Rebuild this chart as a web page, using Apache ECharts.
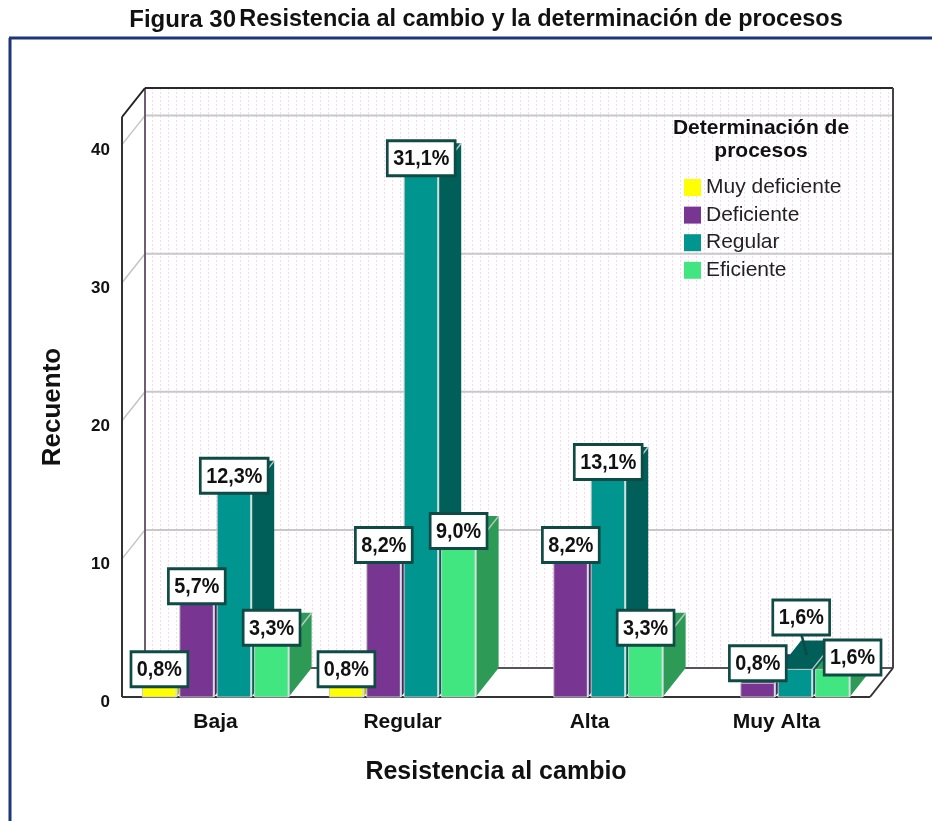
<!DOCTYPE html>
<html>
<head>
<meta charset="utf-8">
<script src="https://cdn.jsdelivr.net/npm/echarts@6/dist/echarts.min.js"></script>
<style>
  html, body { margin: 0; padding: 0; background: #ffffff; }
  #chart { width: 932px; height: 821px; }
</style>
</head>
<body>
<div id="chart"></div>
<script>
// Counts per group of "Resistencia al cambio", one array per level of "Determinación de procesos"
const categories = ['Baja', 'Regular', 'Alta', 'Muy Alta'];
const seriesNames = ['Muy deficiente', 'Deficiente', 'Regular', 'Eficiente'];
const muyDeficiente = [1, 1, 0, 0];
const deficiente = [7, 10, 10, 1];
const regular = [15, 38, 16, 2];
const eficiente = [4, 11, 4, 2];
const yTicks = [0, 10, 20, 30, 40];
const yMax = 42;

const seriesValues = [muyDeficiente, deficiente, regular, eficiente];
const total = seriesValues.reduce((s, arr) => s + arr.reduce((a, b) => a + b, 0), 0);

// Styling
const FONT = '"Liberation Sans", Arial, sans-serif';
const frontColors = ['#ffff00', '#783592', '#00968f', '#42e680'];
const shadeColors = ['#b5b500', '#4e2162', '#005f59', '#2d9a55'];
const DEPTH = [23, -29];          // 3D extrusion of bars and walls, px
const BAR_FRAC = 0.182;           // bar width as a fraction of the category band
const SLOT_FRAC = 0.2;            // distance between bars of a cluster, fraction of band
const LABEL_BORDER = '#0f4a45';
// label displacement for crowded clusters: key "series,category"
const labelShift = {
  '1,3': { dx: 0, dy: -6 },
  '2,3': { dx: 6, dy: -38, leader: true },
  '3,3': { dx: 20, dy: 2 }
};

function pctText(v) {
  return (v / total * 100).toFixed(1).replace('.', ',') + '%';
}

function dotPattern() {
  const c = document.createElement('canvas');
  c.width = 8; c.height = 4;
  const g = c.getContext('2d');
  g.fillStyle = '#ffffff';
  g.fillRect(0, 0, 8, 4);
  g.fillStyle = '#fbd6f6';
  g.fillRect(0, 0, 1, 2);
  return c;
}
const wallPattern = { image: dotPattern(), repeat: 'repeat' };

// Back wall, left wall, floor and gridlines of the 3D box
function renderWalls(params, api) {
  const band = api.size([1, 0])[0];
  const xl = api.coord([0, 0])[0] - band / 2;
  const xr = api.coord([categories.length - 1, 0])[0] + band / 2;
  const yb = api.coord([0, 0])[1];
  const yt = api.coord([0, yMax])[1];
  const [dx, dy] = DEPTH;
  const children = [];
  // back wall
  children.push({ type: 'polygon', shape: { points: [[xl + dx, yt + dy], [xr + dx, yt + dy], [xr + dx, yb + dy], [xl + dx, yb + dy]] },
    style: { fill: wallPattern } });
  // left wall
  children.push({ type: 'polygon', shape: { points: [[xl, yt], [xl + dx, yt + dy], [xl + dx, yb + dy], [xl, yb]] },
    style: { fill: '#ffffff' } });
  // floor
  children.push({ type: 'polygon', shape: { points: [[xl, yb], [xl + dx, yb + dy], [xr + dx, yb + dy], [xr, yb]] },
    style: { fill: '#ffffff' } });
  // gridlines
  yTicks.forEach(t => {
    if (t === 0) return;
    const y = api.coord([0, t])[1];
    children.push({ type: 'line', shape: { x1: xl, y1: y, x2: xl + dx, y2: y + dy }, style: { stroke: '#c4c4c4', lineWidth: 1.5 } });
    children.push({ type: 'line', shape: { x1: xl + dx, y1: y + dy, x2: xr + dx, y2: y + dy }, style: { stroke: '#c8c8c8', lineWidth: 2 } });
  });
  // edges
  const edge = (x1, y1, x2, y2, c, w) => children.push({ type: 'line', shape: { x1, y1, x2, y2 }, style: { stroke: c, lineWidth: w } });
  edge(xl + dx, yt + dy, xl + dx, yb + dy, '#6e5f70', 2);
  edge(xl + dx, yb + dy, xr + dx, yb + dy, '#555555', 2);
  edge(xl + dx, yt + dy, xr + dx, yt + dy, '#2a2a2a', 2);
  edge(xr + dx, yt + dy, xr + dx, yb + dy, '#444444', 2);
  edge(xl, yt, xl + dx, yt + dy, '#222222', 2);
  edge(xl, yt, xl, yb, '#333333', 2);
  edge(xl, yb, xr, yb, '#333333', 2);
  edge(xr, yb, xr + dx, yb + dy, '#333333', 2);
  return { type: 'group', children };
}

function renderBar(sIdx) {
  return function (params, api) {
    const cat = api.value(0);
    const val = api.value(1);
    if (!val) return null;
    const band = api.size([1, 0])[0];
    const base = api.coord([cat, 0]);
    const top = api.coord([cat, val]);
    const w = band * BAR_FRAC;
    const step = band * SLOT_FRAC;
    const cx = base[0] + (sIdx - (seriesNames.length - 1) / 2) * step;
    const x0 = cx - w / 2, x1 = cx + w / 2;
    const yb = base[1], yt = top[1];
    const [dx, dy] = DEPTH;
    const children = [
      { type: 'polygon', shape: { points: [[x1, yb], [x1 + dx, yb + dy], [x1 + dx, yt + dy], [x1, yt]] },
        style: { fill: shadeColors[sIdx] } },
      { type: 'polygon', shape: { points: [[x0, yt], [x1, yt], [x1 + dx, yt + dy], [x0 + dx, yt + dy]] },
        style: { fill: shadeColors[sIdx] } },
      { type: 'rect', shape: { x: x0, y: yt, width: w, height: yb - yt },
        style: { fill: frontColors[sIdx], stroke: '#c8c8c8', lineWidth: 1 } },
      { type: 'line', shape: { x1: x1, y1: yt, x2: x1, y2: yb }, style: { stroke: '#cfe0de', lineWidth: 2 } },
      { type: 'line', shape: { x1: x1, y1: yt, x2: x1 + dx, y2: yt + dy }, style: { stroke: '#b8c8c4', lineWidth: 1.5 } }
    ];
    const shift = labelShift[sIdx + ',' + cat] || { dx: 0, dy: 0 };
    const lx = cx + shift.dx;
    const ly = yt + 2 + shift.dy;
    if (shift.leader) {
      children.push({ type: 'line', z2: 90,
        shape: { x1: lx, y1: ly, x2: cx + dx / 2, y2: yt + dy / 2 },
        style: { stroke: LABEL_BORDER, lineWidth: 2.5 } });
    }
    children.push({
      type: 'text', z2: 100, x: lx, y: ly, scaleX: 0.9,
      style: {
        text: pctText(val), font: 'bold 22px ' + FONT, fill: '#111111',
        align: 'center', verticalAlign: 'bottom',
        backgroundColor: '#ffffff', borderColor: LABEL_BORDER, borderWidth: 3,
        padding: [6, 5, 4, 5]
      }
    });
    return { type: 'group', children };
  };
}

const series = [{
  type: 'custom', name: '__walls', z: 1, silent: true, clip: false,
  renderItem: renderWalls, data: [[0, 0]], tooltip: { show: false }
}];
seriesNames.forEach((name, i) => {
  series.push({
    type: 'custom', name, z: 2, clip: false,
    itemStyle: { color: frontColors[i] },
    renderItem: renderBar(i),
    encode: { x: 0, y: 1 },
    data: seriesValues[i].map((v, c) => [c, v])
  });
});

const chart = echarts.init(document.getElementById('chart'), null, { renderer: 'canvas' });
chart.setOption({
  animation: false,
  backgroundColor: '#ffffff',
  grid: { left: 122, right: 62, top: 117, bottom: 124 },
  xAxis: {
    type: 'category', data: categories,
    name: 'Resistencia al cambio', nameLocation: 'middle', nameGap: 63,
    nameTextStyle: { fontFamily: FONT, fontSize: 25, fontWeight: 'bold', color: '#111' },
    axisLine: { show: false }, axisTick: { show: false },
    axisLabel: { margin: 15, fontFamily: FONT, fontSize: 21, fontWeight: 'bold', color: '#111' }
  },
  yAxis: {
    type: 'value', min: 0, max: yMax, interval: 10,
    name: 'Recuento', nameLocation: 'middle', nameGap: 56, nameRotate: 90,
    nameTextStyle: { fontFamily: FONT, fontSize: 26, fontWeight: 'bold', color: '#111' },
    axisLine: { show: false }, axisTick: { show: false }, splitLine: { show: false },
    axisLabel: {
      margin: 12, fontFamily: FONT, fontSize: 17, fontWeight: 'bold', color: '#111',
      verticalAlign: 'top', lineHeight: 11,
      formatter: v => (yTicks.indexOf(v) >= 0 ? String(v) : '')
    }
  },
  legend: {
    data: seriesNames, orient: 'vertical', left: 679, top: 172,
    icon: 'rect', itemWidth: 17, itemHeight: 17, itemGap: 6.6,
    textStyle: { fontFamily: FONT, fontSize: 21, lineHeight: 21, color: '#222' },
    selectedMode: false
  },
  graphic: [
    { type: 'text', x: 486, y: 20,
      style: {
        text: '{a|Figura 30} {b|Resistencia al cambio y la determinación de procesos}',
        align: 'center', verticalAlign: 'middle',
        rich: {
          a: { font: 'bold 24px ' + FONT, fill: '#111' },
          b: { font: 'bold 23.5px ' + FONT, fill: '#111' }
        }
      } },
    { type: 'text', x: 761, y: 117, z: 10,
      style: { text: 'Determinación de\nprocesos', font: 'bold 21px ' + FONT, fill: '#111',
        align: 'center', verticalAlign: 'top', lineHeight: 23 } },
    { type: 'line', shape: { x1: 9, y1: 38, x2: 932, y2: 38 }, style: { stroke: '#1c3778', lineWidth: 3 } },
    { type: 'line', shape: { x1: 10, y1: 38, x2: 10, y2: 821 }, style: { stroke: '#1c3778', lineWidth: 3 } }
  ],
  series
});
</script>
</body>
</html>
